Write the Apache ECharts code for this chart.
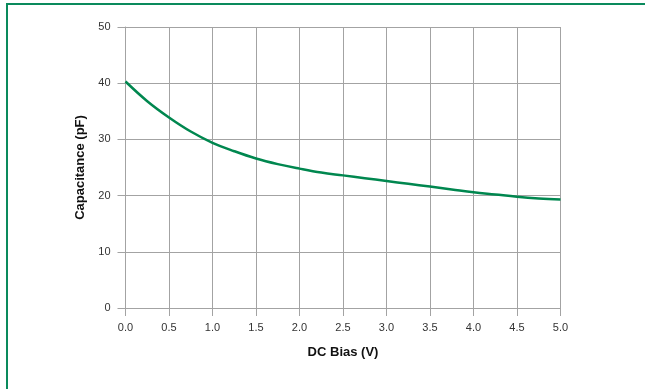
<!DOCTYPE html>
<html>
<head>
<meta charset="utf-8">
<script src="https://cdn.jsdelivr.net/npm/echarts@6/dist/echarts.min.js"></script>
<style>
html,body{margin:0;padding:0;background:#fff;}
#frame{position:absolute;left:6px;top:3px;width:639px;height:386px;border-left:2px solid #0a8a5c;border-top:2px solid #0a8a5c;box-sizing:border-box;}
#chart{position:absolute;left:0;top:0;width:645px;height:389px;}
</style>
</head>
<body>
<div id="frame"></div>
<div id="chart"></div>
<script>
const biasV = [0, 0.25, 0.5, 0.75, 1.0, 1.25, 1.5, 1.75, 2.0, 2.25, 2.5, 2.75, 3.0, 3.25, 3.5, 3.75, 4.0, 4.25, 4.5, 4.75, 5.0];
const capacitancePF = [40.3, 36.8, 33.9, 31.4, 29.4, 27.9, 26.6, 25.6, 24.8, 24.1, 23.6, 23.1, 22.6, 22.1, 21.6, 21.1, 20.6, 20.2, 19.8, 19.5, 19.3];
const xAxisName = 'DC Bias (V)';
const yAxisName = 'Capacitance (pF)';

const chart = echarts.init(document.getElementById('chart'), null, {renderer: 'canvas'});
const gridColor = '#a3a3a3';
const font = 'Liberation Sans, Arial, Helvetica, sans-serif';
chart.setOption({
  animation: false,
  grid: {left: 125.5, right: 84.5, top: 27, bottom: 81},
  xAxis: {
    type: 'value', min: 0, max: 5, interval: 0.5,
    name: xAxisName, nameLocation: 'middle', nameGap: 38,
    nameTextStyle: {fontFamily: font, fontWeight: 'bold', fontSize: 13, color: '#111'},
    axisLine: {show: true, lineStyle: {color: gridColor, width: 1}},
    axisTick: {show: true, length: 8, lineStyle: {color: gridColor}},
    axisLabel: {margin: 14, fontFamily: font, fontSize: 11, color: '#333', formatter: v => v.toFixed(1)},
    splitLine: {show: true, lineStyle: {color: gridColor, width: 1}}
  },
  yAxis: {
    type: 'value', min: 0, max: 50, interval: 10,
    name: yAxisName, nameLocation: 'middle', nameGap: 34, nameRotate: 90,
    nameTextStyle: {fontFamily: font, fontWeight: 'bold', fontSize: 13, color: '#111'},
    axisLine: {show: true, lineStyle: {color: gridColor, width: 1}},
    axisTick: {show: true, length: 8, lineStyle: {color: gridColor}},
    axisLabel: {margin: 15, fontFamily: font, fontSize: 11, color: '#333'},
    splitLine: {show: true, lineStyle: {color: gridColor, width: 1}}
  },
  series: [{
    type: 'line',
    data: biasV.map((x, i) => [x, capacitancePF[i]]),
    smooth: 0.4,
    showSymbol: false,
    lineStyle: {color: '#00874f', width: 2.5}
  }]
});
</script>
</body>
</html>
